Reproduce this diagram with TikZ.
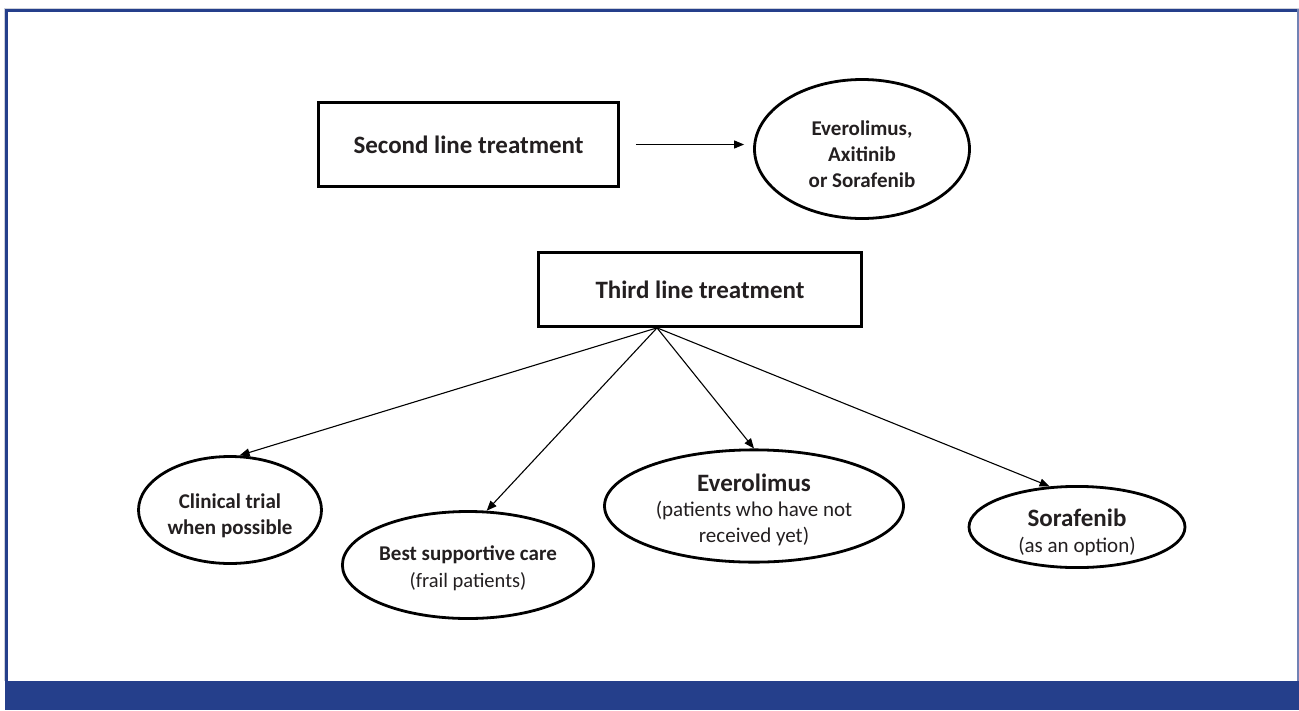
\documentclass[tikz,border=0pt]{standalone}
\usepackage{fontspec}
\setmainfont{Carlito}
\usetikzlibrary{arrows.meta,shapes.geometric,calc}
\definecolor{frameblue}{RGB}{37,63,139}
\definecolor{framegray}{RGB}{205,208,218}
\definecolor{txt}{RGB}{35,31,32}
\newcommand{\lift}[1]{\rule{0pt}{#1}}
\begin{document}
\begin{tikzpicture}[x=1pt,y=-1pt,
  box/.style={draw=black,line width=2.7pt,rectangle,inner sep=0pt,text=txt,font=\bfseries\fontsize{25}{30}\selectfont},
  oval/.style={draw=black,line width=2.8pt,ellipse,inner sep=0pt,text=txt,align=center},
  arr/.style={draw=black,line width=1.1pt,-{Triangle[length=10pt,width=8pt]}},
]
\useasboundingbox (0,0) rectangle (1299,710);
\fill[white] (0,0) rectangle (1299,710);
% frame
\fill[framegray] (3.8,8) rectangle (5,681);
\fill[framegray] (3.8,7.8) rectangle (1299,9);
\fill[frameblue] (5,9) rectangle (1299,11.5);
\fill[frameblue] (5,9) rectangle (7.5,681);
\fill[frameblue!65] (1297,9) rectangle (1299,681);
\fill[frameblue] (5,681) rectangle (1299,710);
% boxes
\node[box,minimum width=300pt,minimum height=84pt] (second) at (468.5,144.5) {Second line treatment};
\node[box,minimum width=323pt,minimum height=74pt] (third) at (700,289.5) {Third line treatment};
% ellipses
\node[oval,minimum width=215pt,minimum height=139pt,font=\bfseries\fontsize{21}{26}\selectfont] (topell) at (862,149) {\lift{25pt}Everolimus,\\Axitinib\\or Sorafenib};
\node[oval,minimum width=183pt,minimum height=107pt,font=\bfseries\fontsize{21}{26}\selectfont] (clin) at (230,510) {\lift{27pt}Clinical trial\\when possible};
\node[oval,minimum width=227pt,minimum height=107pt,font=\fontsize{20.5}{27}\selectfont] (best) at (468,565) {\lift{21pt}{\bfseries\fontsize{21}{26}\selectfont Best supportive care}\\(frail patients)};
\node[oval,minimum width=299pt,minimum height=95pt,font=\fontsize{21}{25.5}\selectfont] (ever) at (754,506) {\lift{25pt}{\bfseries\fontsize{25}{27}\selectfont Everolimus}\\(patients who have not\\received yet)};
\node[oval,minimum width=216pt,minimum height=77pt,font=\fontsize{21}{26}\selectfont] (sora) at (1077,527) {\lift{28pt}{\bfseries\fontsize{25}{27}\selectfont Sorafenib}\\(as an option)};
% connectors
\coordinate (apex) at ($(third.south west)!0.368!(third.south east)$);
\draw[arr] ([xshift=16pt]second.east) -- ([xshift=-9pt]second.east -| topell.west);
\draw[arr] (apex) -- (clin.80);
\draw[arr] (apex) -- (best.71);
\draw[arr] (apex) -- (ever.north);
\draw[arr] (apex) -- (sora.124);
\end{tikzpicture}
\end{document}
